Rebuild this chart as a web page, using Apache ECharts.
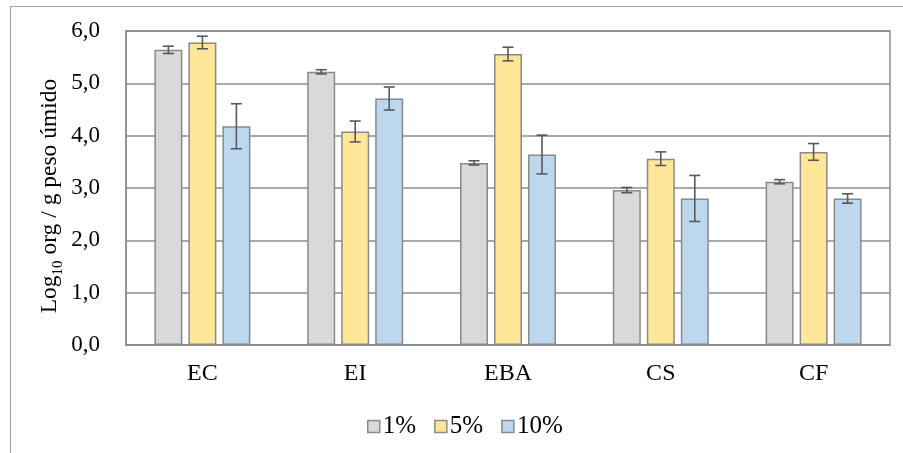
<!DOCTYPE html>
<html>
<head>
<meta charset="utf-8">
<script src="https://cdn.jsdelivr.net/npm/echarts@6/dist/echarts.min.js"></script>
<style>
  html, body { margin: 0; padding: 0; background: #fff; }
  #chart { width: 903px; height: 453px; }
</style>
</head>
<body>
<div id="chart"></div>
<script>
// Samples and dilutions
const categories = ['EC', 'EI', 'EBA', 'CS', 'CF'];
const seriesNames = ['1%', '5%', '10%'];

// Mean counts (log10 org / g wet weight)
const pct1 = [5.64, 5.22, 3.48, 2.96, 3.12];
const pct5 = [5.78, 4.08, 5.56, 3.56, 3.69];
const pct10 = [4.18, 4.71, 3.64, 2.80, 2.80];

// Standard deviations
const err1 = [0.07, 0.04, 0.04, 0.05, 0.04];
const err5 = [0.12, 0.20, 0.13, 0.13, 0.16];
const err10 = [0.43, 0.22, 0.37, 0.44, 0.09];

const yMin = 0, yMax = 6, yStep = 1;

const fills = ['#d9d9d9', '#ffe699', '#bdd7ee'];
const values = [pct1, pct5, pct10];
const errors = [err1, err5, err10];

const FONT = '"Liberation Serif", "Times New Roman", serif';
const BAR_W = 28, BAR_GAP = 6;

const chart = echarts.init(document.getElementById('chart'), null, { renderer: 'canvas' });

const barSeries = values.map((vals, i) => ({
  name: seriesNames[i],
  type: 'bar',
  data: vals,
  barWidth: BAR_W,
  barGap: (BAR_GAP / BAR_W * 100) + '%',
  itemStyle: { color: fills[i], borderColor: '#8a8a8a', borderWidth: 1.5 },
  emphasis: { disabled: true },
  z: 2
}));

const errSeries = values.map((vals, i) => ({
  name: 'err' + i,
  type: 'custom',
  data: vals.map((v, k) => [k, v, errors[i][k]]),
  encode: { x: 0, y: 1 },
  z: 5,
  silent: true,
  renderItem: function (params, api) {
    const k = api.value(0);
    const v = api.value(1);
    const e = api.value(2);
    const hi = api.coord([k, v + e]);
    const lo = api.coord([k, v - e]);
    const x = hi[0] + (i - 1) * (BAR_W + BAR_GAP);
    const cap = 5.5;
    const style = { stroke: '#595959', lineWidth: 1.6, fill: null };
    return {
      type: 'group',
      children: [
        { type: 'line', shape: { x1: x, y1: hi[1], x2: x, y2: lo[1] }, style },
        { type: 'line', shape: { x1: x - cap, y1: hi[1], x2: x + cap, y2: hi[1] }, style },
        { type: 'line', shape: { x1: x - cap, y1: lo[1], x2: x + cap, y2: lo[1] }, style }
      ]
    };
  }
}));

chart.setOption({
  animation: false,
  backgroundColor: '#ffffff',
  graphic: [{
    type: 'rect',
    shape: { x: 10.5, y: 6.5, width: 1000, height: 1000 },
    style: { fill: null, stroke: '#a6a6a6', lineWidth: 1.2 },
    silent: true
  }],
  grid: {
    left: 126, right: 13, top: 31, bottom: 108,
    show: true, borderColor: '#8c8c8c', borderWidth: 1.5, backgroundColor: 'transparent'
  },
  legend: {
    data: seriesNames,
    bottom: 14,
    left: 367,
    padding: 0,
    itemWidth: 12,
    itemHeight: 12,
    itemGap: 18,
    icon: 'rect',
    itemStyle: { borderColor: '#8a8a8a', borderWidth: 1.5 },
    textStyle: { fontFamily: FONT, fontSize: 25, color: '#000', padding: [0, 0, 0, -2] }
  },
  xAxis: {
    type: 'category',
    data: categories,
    axisLine: { show: true, lineStyle: { color: '#8c8c8c', width: 1.5 } },
    axisTick: { show: false },
    axisLabel: { fontFamily: FONT, fontSize: 24, color: '#000', margin: 17 }
  },
  yAxis: {
    type: 'value',
    min: yMin, max: yMax, interval: yStep,
    name: '{a|Log}{s|10}{a| org / g peso úmido}',
    nameLocation: 'middle',
    nameRotate: 90,
    nameGap: 64,
    nameMoveOverlap: false,
    nameTextStyle: {
      padding: [0, 16, 0, 0],
      rich: {
        a: { fontFamily: FONT, fontSize: 23.5, color: '#000', verticalAlign: 'bottom' },
        s: { fontFamily: FONT, fontSize: 15, color: '#000', verticalAlign: 'bottom', padding: [0, 0, -4, 0] }
      }
    },
    axisLine: { show: true, lineStyle: { color: '#8c8c8c', width: 1.5 } },
    axisTick: { show: false },
    splitLine: { show: true, lineStyle: { color: '#8c8c8c', width: 1.5 } },
    axisLabel: {
      fontFamily: FONT, fontSize: 23, color: '#000', margin: 26,
      formatter: v => v.toFixed(1).replace('.', ',')
    }
  },
  series: barSeries.concat(errSeries)
});
</script>
</body>
</html>
